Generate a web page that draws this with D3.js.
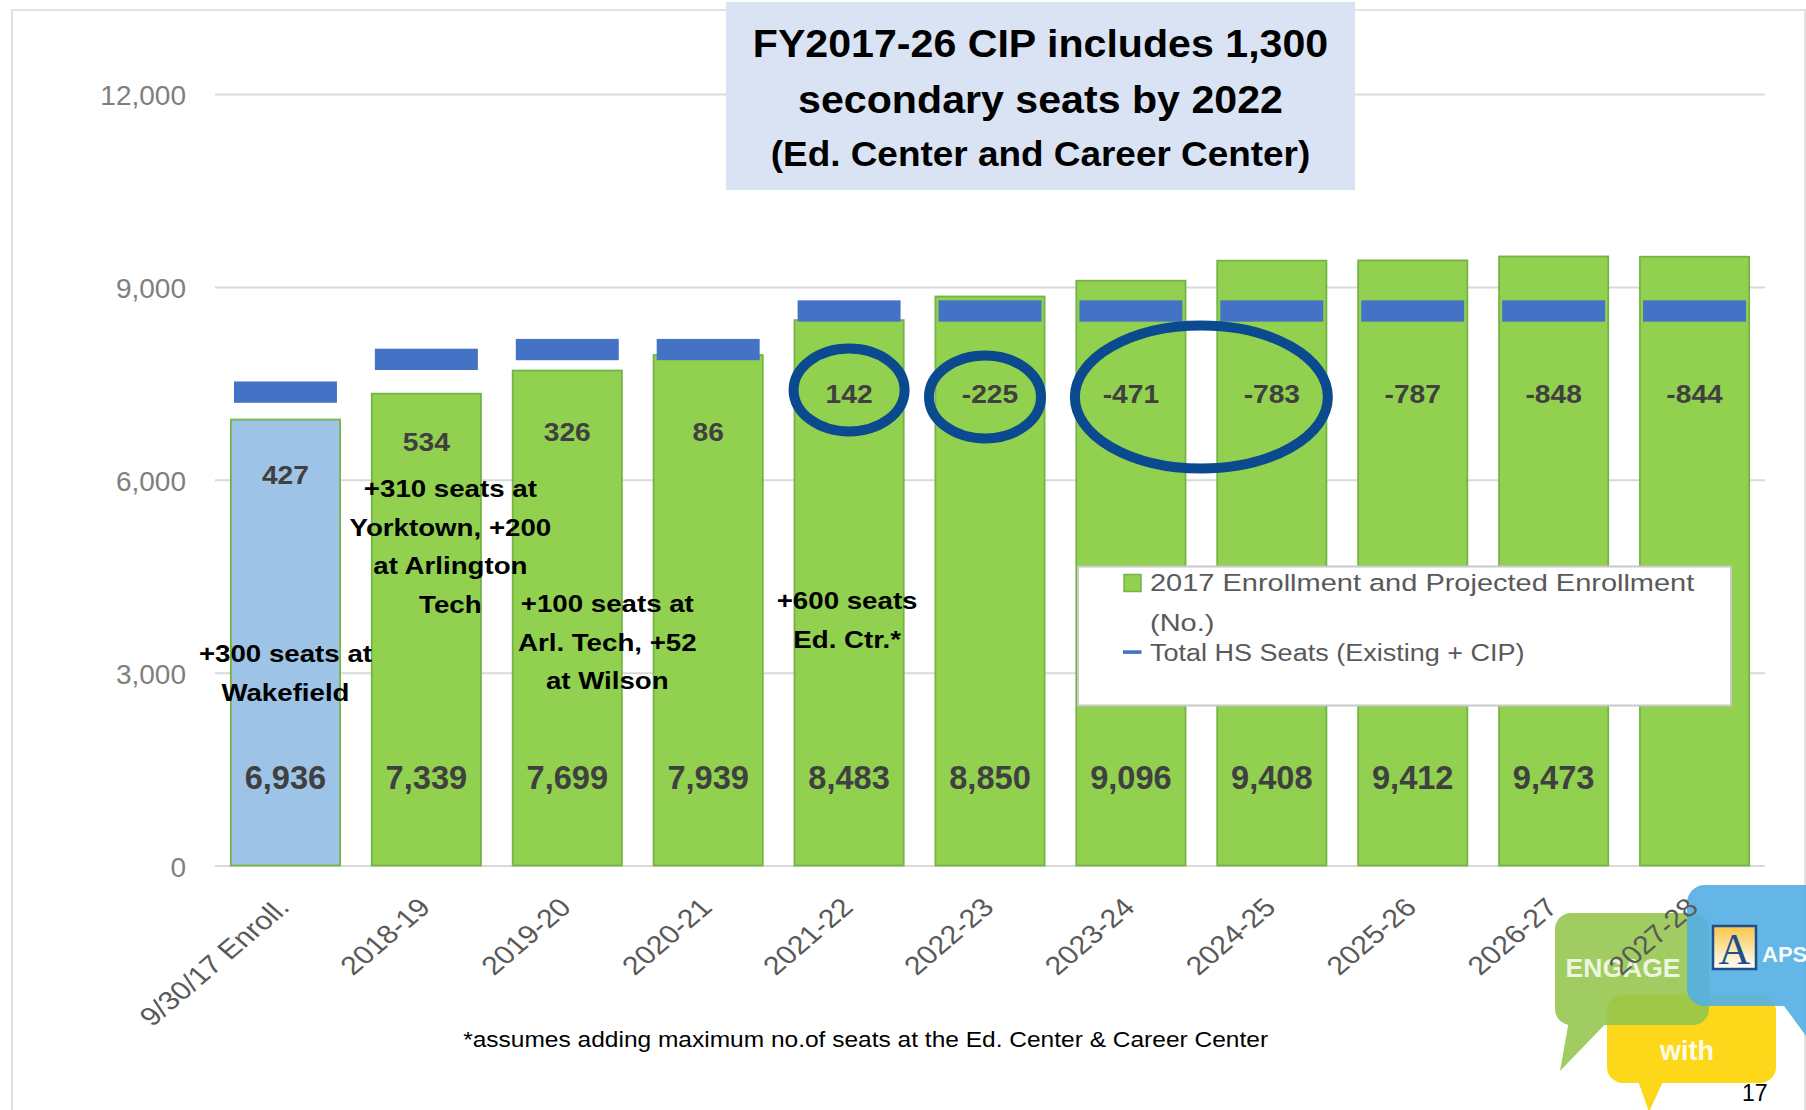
<!DOCTYPE html>
<html>
<head>
<meta charset="utf-8">
<script src="https://d3js.org/d3.v7.min.js"></script>
<style>
  html, body { margin: 0; padding: 0; background: #ffffff; }
  svg { display: block; }
  text { font-family: "Liberation Sans", Arial, sans-serif; }
</style>
</head>
<body>
<script>
// ---------------- DATA ----------------
const categories = ["9/30/17 Enroll.", "2018-19", "2019-20", "2020-21", "2021-22", "2022-23",
                    "2023-24", "2024-25", "2025-26", "2026-27", "2027-28"];
const enrollment = [6936, 7339, 7699, 7939, 8483, 8850, 9096, 9408, 9412, 9473, 9469];
const seats      = [7363, 7873, 8025, 8025, 8625, 8625, 8625, 8625, 8625, 8625, 8625];
const gapLabels  = ["427", "534", "326", "86", "142", "-225", "-471", "-783", "-787", "-848", "-844"];
const enrollLabels = ["6,936", "7,339", "7,699", "7,939", "8,483", "8,850", "9,096", "9,408", "9,412", "9,473", ""];
const yTicks = [0, 3000, 6000, 9000, 12000];
const titleLines = ["FY2017-26 CIP includes 1,300", "secondary seats by 2022", "(Ed. Center and Career Center)"];
const legendLabels = ["2017 Enrollment and Projected Enrollment", "(No.)", "Total HS Seats (Existing + CIP)"];
const annotations = [
  { cat: 0, dx: 0,   lines: ["+300 seats at", "Wakefield"], y0: 662 },
  { cat: 1, dx: 24,  lines: ["+310 seats at", "Yorktown, +200", "at Arlington", "Tech"], y0: 497 },
  { cat: 2, dx: 40,  lines: ["+100 seats at", "Arl. Tech, +52", "at Wilson"], y0: 612 },
  { cat: 4, dx: -2,  lines: ["+600 seats", "Ed. Ctr.*"], y0: 609 }
];
const footnote = "*assumes adding maximum no.of seats at the Ed. Center & Career Center";

// ---------------- SETUP ----------------
const W = 1806, H = 1110;
const FONT = '"Liberation Sans", Arial, sans-serif';
const svg = d3.select("body").append("svg").attr("width", W).attr("height", H);

function stext(parent, o) {
  return parent.append("text")
    .attr("transform", `translate(${o.x},${o.y}) scale(${o.sx || 1},1)`)
    .attr("text-anchor", o.anchor || "middle")
    .style("font-size", o.size + "px")
    .style("font-weight", o.weight || "normal")
    .style("fill", o.fill || "#000")
    .text(o.text);
}

svg.append("rect").attr("width", W).attr("height", H).attr("fill", "#ffffff");
// frame
svg.append("rect").attr("x", 12).attr("y", 10).attr("width", 1793).attr("height", 1130)
  .attr("fill", "none").attr("stroke", "#e2e2e2").attr("stroke-width", 2);

const plotL = 215, plotR = 1765, plotB = 865.5, plotT = 94;

const x = d3.scaleBand().domain(categories).range([plotL, plotR])
  .paddingInner(0.225).paddingOuter(0.1125);
const y = d3.scaleLinear().domain([0, 12000]).range([plotB, plotT]);
const cx = i => x(categories[i]) + x.bandwidth() / 2;

// ---------------- GRID + Y AXIS ----------------
const yAxis = svg.append("g").attr("transform", `translate(${plotL},0)`)
  .call(d3.axisLeft(y).tickValues(yTicks).tickSize(-(plotR - plotL)).tickFormat(d3.format(",")));
yAxis.select(".domain").remove();
yAxis.selectAll(".tick line").attr("stroke", "#d9d9d9").attr("stroke-width", 2);
yAxis.selectAll(".tick text")
  .attr("x", -29).attr("dy", "0.38em")
  .style("font-family", FONT).style("font-size", "28px").style("fill", "#7f7f7f");

// ---------------- TITLE BOX ----------------
svg.append("rect").attr("x", 726).attr("y", 2).attr("width", 629).attr("height", 188).attr("fill", "#dae3f3");
const titleBase = [56.7, 113.3, 165.7];
const titleSize = [39, 39, 35];
titleLines.forEach((t, i) => stext(svg, { x: 1040.5, y: titleBase[i], text: t, size: titleSize[i], weight: "bold", sx: 1.055 }));

// ---------------- LOGO (ENGAGE with APS) ----------------
const logo = svg.append("g");
function bubble(parent, x0, y0, x1, y1, r, tail, fill, op) {
  const g = parent.append("g").attr("opacity", op);
  g.append("rect").attr("x", x0).attr("y", y0).attr("width", x1 - x0).attr("height", y1 - y0)
    .attr("rx", r).attr("fill", fill);
  g.append("polygon").attr("points", tail.map(p => p.join(",")).join(" ")).attr("fill", fill);
}
bubble(logo, 1607, 995, 1776, 1083, 16, [[1636, 1075], [1649, 1112], [1666, 1075]], "#fdd719", 1);
bubble(logo, 1555, 913, 1709, 1025, 16, [[1570, 1015], [1560, 1071], [1614, 1015]], "#93c64d", 0.88);
bubble(logo, 1687, 885, 1830, 1006, 18, [[1776, 995], [1806, 1036], [1806, 995]], "#56b0e3", 0.92);
stext(logo, { x: 1623, y: 977, text: "ENGAGE", size: 26.5, weight: "bold", fill: "#eef5df" });
stext(logo, { x: 1687, y: 1060, text: "with", size: 27, weight: "bold", fill: "#fffbe6" });
const grad = svg.append("defs").append("linearGradient").attr("id", "apsg").attr("x1", 0).attr("y1", 0).attr("x2", 0).attr("y2", 1);
grad.append("stop").attr("offset", "0%").attr("stop-color", "#f7c646");
grad.append("stop").attr("offset", "100%").attr("stop-color", "#ffffff");
logo.append("rect").attr("x", 1713).attr("y", 926).attr("width", 43).attr("height", 43)
  .attr("fill", "url(#apsg)").attr("stroke", "#1f4f8f").attr("stroke-width", 2.5);
stext(logo, { x: 1734.5, y: 964, text: "A", size: 44, fill: "#1f4f8f" }).style("font-family", '"Liberation Serif", serif');
stext(logo, { x: 1762, y: 962, text: "APS", size: 22, weight: "bold", fill: "#f4fbff", anchor: "start" });
stext(logo, { x: 1742, y: 1101, text: "17", size: 23, fill: "#000", anchor: "start" });

// ---------------- BARS ----------------
svg.append("g").selectAll("rect").data(enrollment).join("rect")
  .attr("x", (d, i) => x(categories[i]))
  .attr("y", d => y(d))
  .attr("width", x.bandwidth())
  .attr("height", d => y(0) - y(d))
  .attr("fill", (d, i) => i === 0 ? "#9dc3e6" : "#92d050")
  .attr("stroke", "#74b446").attr("stroke-width", 1.8);

// seats markers (line series shown as wide dash markers)
const mW = x.bandwidth() * 0.943, mH = 21.3;
svg.append("g").selectAll("rect").data(seats).join("rect")
  .attr("x", (d, i) => cx(i) - mW / 2)
  .attr("y", d => y(d) - mH / 2)
  .attr("width", mW).attr("height", mH)
  .attr("fill", "#4472c4");

// ---------------- X AXIS ----------------
const xAxis = svg.append("g").attr("transform", `translate(0,${plotB})`)
  .call(d3.axisBottom(x).tickSize(0));
xAxis.select(".domain").remove();
xAxis.selectAll(".tick text")
  .attr("x", 0).attr("y", 0).attr("dy", "0.35em")
  .attr("text-anchor", "end")
  .attr("transform", "translate(-2,37) scale(1.17,1) rotate(-45)")
  .style("font-family", FONT).style("font-size", "26px").style("fill", "#595959");

// ---------------- DATA LABELS ----------------
enrollLabels.forEach((t, i) => {
  if (t) stext(svg, { x: cx(i), y: 789, text: t, size: 32.6, weight: "bold", fill: "#404040" });
});
gapLabels.forEach((t, i) => {
  stext(svg, { x: cx(i), y: y(seats[i]) + 91.7, text: t, size: 25.6, weight: "bold", fill: "#404040", sx: 1.1 });
});

// ---------------- ELLIPSES ----------------
const ringColor = "#0b4a8e";
const rings = [
  { x: cx(4), y: y(seats[4]) + 79, rx: 55.5, ry: 41.5 },
  { x: cx(5) - 5, y: y(seats[5]) + 86, rx: 56, ry: 41.5 },
  { x: (cx(6) + cx(7)) / 2, y: y(seats[6]) + 86, rx: 126.5, ry: 71.5 }
];
svg.append("g").selectAll("ellipse").data(rings).join("ellipse")
  .attr("cx", d => d.x).attr("cy", d => d.y).attr("rx", d => d.rx).attr("ry", d => d.ry)
  .attr("fill", "none").attr("stroke", ringColor).attr("stroke-width", 10);

// ---------------- ANNOTATIONS ----------------
annotations.forEach(a => {
  a.lines.forEach((l, j) => {
    stext(svg, { x: cx(a.cat) + a.dx, y: a.y0 + j * 38.5, text: l, size: 24.5, weight: "bold", fill: "#000", sx: 1.13 });
  });
});

// ---------------- LEGEND ----------------
const lg = svg.append("g");
lg.append("rect").attr("x", 1078).attr("y", 566.5).attr("width", 653).attr("height", 139)
  .attr("fill", "#ffffff").attr("stroke", "#c8c8c8").attr("stroke-width", 2);
lg.append("rect").attr("x", 1124).attr("y", 574.5).attr("width", 17).attr("height", 17)
  .attr("fill", "#92d050").attr("stroke", "#74b446").attr("stroke-width", 1.5);
lg.append("rect").attr("x", 1123).attr("y", 650.3).attr("width", 18.5).attr("height", 3.6).attr("fill", "#4472c4");
const legBase = [591, 630.5, 661];
const legSx = [1.244, 1.244, 1.16];
legendLabels.forEach((t, i) => stext(lg, { x: 1150, y: legBase[i], text: t, size: 23.3, fill: "#595959", anchor: "start", sx: legSx[i] }));

// ---------------- FOOTNOTE ----------------
stext(svg, { x: 865.6, y: 1047, text: footnote, size: 21.5, fill: "#000", sx: 1.14 });
</script>
</body>
</html>
